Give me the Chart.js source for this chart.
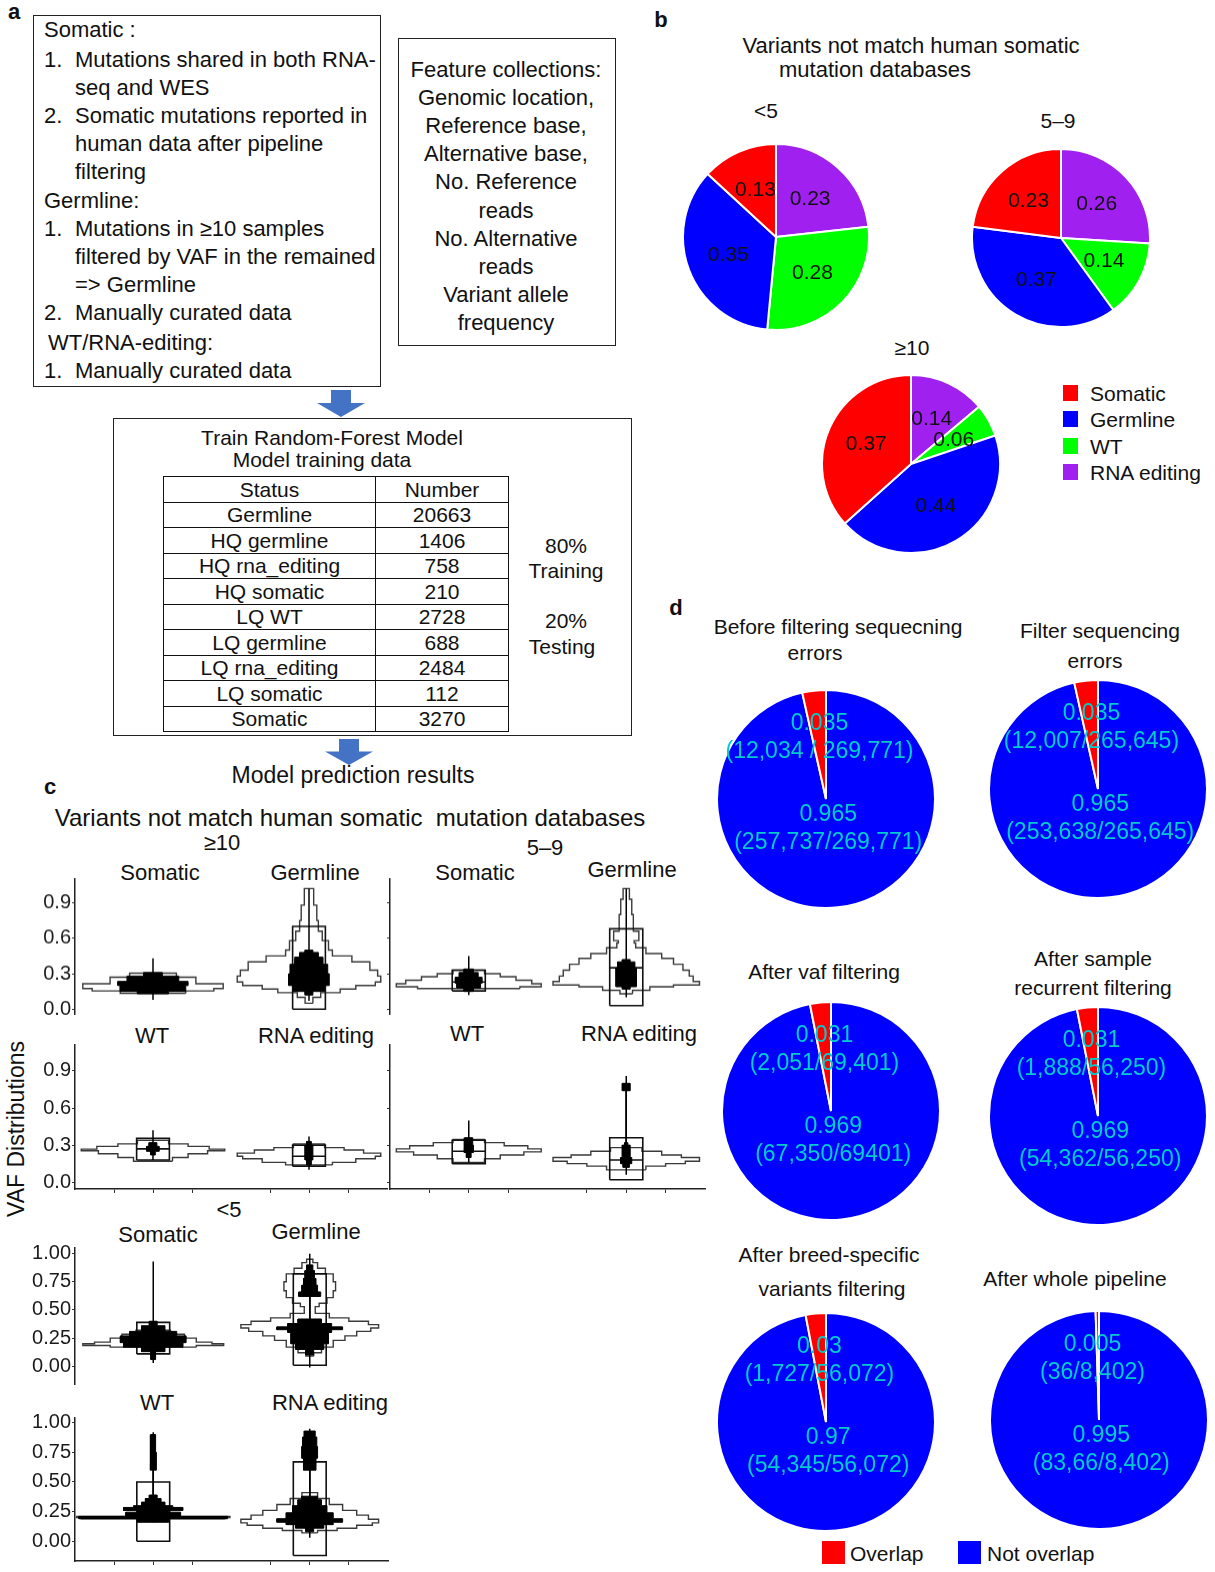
<!DOCTYPE html>
<html>
<head>
<meta charset="utf-8">
<title>Somatic variant classification</title>
<script src="https://cdn.jsdelivr.net/npm/chart.js@4.4.1/dist/chart.umd.min.js"></script>
<style>
  body { margin: 0; background: #fff; }
  #page { position: relative; width: 1215px; height: 1572px; overflow: hidden;
          font-family: "Liberation Sans", Arial, sans-serif; color: #111; }
  .txt { position: absolute; white-space: pre; line-height: 1; }
  .frame { position: absolute; border: 1.5px solid #222; box-sizing: border-box; }
  .key { position: absolute; }
  canvas { position: absolute; }
  table.train { position: absolute; border-collapse: collapse; font-size: 21px; }
  table.train td { border: 1.5px solid #111; padding: 0; text-align: center; line-height: 1; }
  table.train tr { height: 25.5px; }
</style>
</head>
<body>
<div id="page"></div>
<script>
/* =========================
   Data
========================= */

// panel a
const criteria = [
  ['head', 'Somatic :'],
  ['item', '1.', 'Mutations shared in both RNA-'],
  ['cont', 'seq and WES'],
  ['item', '2.', 'Somatic mutations reported in'],
  ['cont', 'human data after pipeline'],
  ['cont', 'filtering'],
  ['head', 'Germline:'],
  ['item', '1.', 'Mutations in \u226510 samples'],
  ['cont', 'filtered by VAF in the remained'],
  ['cont', '=> Germline'],
  ['item', '2.', 'Manually curated data'],
  ['sub', 'WT/RNA-editing:'],
  ['item', '1.', 'Manually curated data']
];
const featureLines = ['Feature collections:', 'Genomic location,', 'Reference base,', 'Alternative base,',
  'No. Reference', 'reads', 'No. Alternative', 'reads', 'Variant allele', 'frequency'];
const trainStatus = ['Germline', 'HQ germline', 'HQ rna_editing', 'HQ somatic', 'LQ WT',
  'LQ germline', 'LQ rna_editing', 'LQ somatic', 'Somatic'];
const trainCounts = [20663, 1406, 758, 210, 2728, 688, 2484, 112, 3270];

// panel b
const statusNames = ['Somatic', 'Germline', 'WT', 'RNA editing'];
const statusColors = ['#ff0000', '#0000ff', '#00ff00', '#a020f0'];
const shareLt5 = [0.13, 0.35, 0.28, 0.23];
const share5to9 = [0.23, 0.37, 0.14, 0.26];
const shareGe10 = [0.37, 0.44, 0.06, 0.14];

// panel d
const stepTitles = [
  ['Before filtering sequecning', 'errors'],
  ['Filter sequencing', 'errors'],
  ['After vaf filtering'],
  ['After sample', 'recurrent filtering'],
  ['After breed-specific', 'variants filtering'],
  ['After whole pipeline']
];
const overlapShare = [0.035, 0.035, 0.031, 0.031, 0.03, 0.005];
const notOverlapShare = [0.965, 0.965, 0.969, 0.969, 0.97, 0.995];
const overlapCounts = ['(12,034 / 269,771)', '(12,007/265,645)', '(2,051/69,401)',
  '(1,888/56,250)', '(1,727/56,072)', '(36/8,402)'];
const notOverlapCounts = ['(257,737/269,771)', '(253,638/265,645)', '(67,350/69401)',
  '(54,362/56,250)', '(54,345/56,072)', '(83,66/8,402)'];

// panel c: profiles are [VAF level, half density] steps, last level closes the shape
// box = [q1, median, q3], range = [lowest, highest] point
const ge10SomaticViolin = [[0.134, 0.42], [0.155, 0.78], [0.175, 0.9], [0.215, 0.55], [0.27, 0.3], [0.305, 0]];
const ge10SomaticDots = [[0.13, 0.2], [0.15, 0.42], [0.2, 0.45], [0.235, 0.33], [0.28, 0.12], [0.31, 0]];
const ge10SomaticBox = [0.17, 0.21, 0.26];
const ge10SomaticRange = [0.08, 0.43];

const ge10GermlineViolin = [[0.05, 0.05], [0.1, 0.15], [0.14, 0.4], [0.17, 0.6], [0.2, 0.85], [0.23, 0.92],
  [0.28, 0.88], [0.33, 0.78], [0.4, 0.55], [0.45, 0.3], [0.5, 0.25], [0.58, 0.17], [0.66, 0.12],
  [0.75, 0.1], [0.88, 0.06], [1.02, 0]];
const ge10GermlineDots = [[0.12, 0.05], [0.15, 0.2], [0.2, 0.26], [0.3, 0.24], [0.38, 0.18], [0.44, 0.12], [0.48, 0.05], [0.5, 0]];
const ge10GermlineBox = [0.0, 0.34, 0.7];
const ge10GermlineRange = [0.07, 1.02];

const ge10WtViolin = [[0.17, 0.25], [0.2, 0.45], [0.23, 0.7], [0.255, 0.92], [0.268, 0.72], [0.29, 0.45], [0.31, 0.2], [0.34, 0]];
const ge10WtDots = [[0.22, 0.03], [0.25, 0.08], [0.29, 0.05], [0.32, 0]];
const ge10WtBox = [0.18, 0.27, 0.355];
const ge10WtRange = [0.18, 0.42];

const ge10RnaViolin = [[0.14, 0.3], [0.16, 0.6], [0.19, 0.85], [0.21, 0.92], [0.235, 0.7], [0.26, 0.45], [0.28, 0.2], [0.31, 0]];
const ge10RnaDots = [[0.14, 0.03], [0.18, 0.05], [0.3, 0.03], [0.33, 0]];
const ge10RnaBox = [0.13, 0.21, 0.3];
const ge10RnaRange = [0.1, 0.37];

const mid59SomaticViolin = [[0.175, 0.65], [0.19, 0.92], [0.215, 0.8], [0.245, 0.6], [0.275, 0.4], [0.3, 0.2], [0.33, 0]];
const mid59SomaticDots = [[0.15, 0.06], [0.18, 0.15], [0.22, 0.17], [0.27, 0.12], [0.31, 0.06], [0.34, 0]];
const mid59SomaticBox = [0.155, 0.23, 0.33];
const mid59SomaticRange = [0.12, 0.45];

const mid59GermlineViolin = [[0.13, 0.08], [0.16, 0.3], [0.19, 0.6], [0.205, 0.93], [0.235, 0.85], [0.28, 0.8],
  [0.33, 0.72], [0.38, 0.6], [0.43, 0.45], [0.47, 0.25], [0.52, 0.12], [0.56, 0.1], [0.58, 0.16],
  [0.66, 0.09], [0.8, 0.07], [0.93, 0.04], [1.02, 0]];
const mid59GermlineDots = [[0.17, 0.05], [0.19, 0.13], [0.25, 0.13], [0.35, 0.11], [0.4, 0.05], [0.42, 0]];
const mid59GermlineBox = [0.03, 0.35, 0.68];
const mid59GermlineRange = [0.1, 1.02];

const mid59WtViolin = [[0.16, 0.2], [0.19, 0.4], [0.22, 0.7], [0.245, 0.92], [0.27, 0.75], [0.295, 0.45], [0.32, 0.2], [0.345, 0]];
const mid59WtDots = [[0.2, 0.03], [0.24, 0.06], [0.3, 0.05], [0.36, 0]];
const mid59WtBox = [0.15, 0.25, 0.34];
const mid59WtRange = [0.16, 0.5];

const mid59RnaViolin = [[0.1, 0.25], [0.13, 0.5], [0.15, 0.75], [0.17, 0.93], [0.2, 0.7], [0.22, 0.45], [0.25, 0.2], [0.28, 0]];
const mid59RnaDots = [[0.12, 0.04], [0.15, 0.07], [0.2, 0.05], [0.3, 0.02], [0.32, 0], [0.74, 0.05], [0.8, 0]];
const mid59RnaBox = [0.02, 0.18, 0.36];
const mid59RnaRange = [0.06, 0.86];

const lt5SomaticViolin = [[0.17, 0.55], [0.185, 0.9], [0.2, 0.75], [0.215, 0.55], [0.25, 0.4], [0.285, 0.22], [0.32, 0.1], [0.34, 0]];
const lt5SomaticDots = [[0.06, 0.03], [0.13, 0.15], [0.17, 0.38], [0.21, 0.42], [0.27, 0.3], [0.31, 0.15], [0.36, 0.05], [0.4, 0]];
const lt5SomaticBox = [0.11, 0.23, 0.39];
const lt5SomaticRange = [0.03, 0.93];

const lt5GermlineViolin = [[0.09, 0.05], [0.12, 0.15], [0.17, 0.3], [0.23, 0.45], [0.27, 0.6], [0.31, 0.78],
  [0.34, 0.88], [0.37, 0.75], [0.4, 0.5], [0.43, 0.25], [0.47, 0.07], [0.53, 0.12], [0.56, 0.22],
  [0.61, 0.3], [0.67, 0.33], [0.75, 0.3], [0.82, 0.2], [0.87, 0.1], [0.92, 0.04], [0.95, 0]];
const lt5GermlineDots = [[0.1, 0.05], [0.15, 0.18], [0.2, 0.24], [0.3, 0.28], [0.325, 0.42], [0.35, 0.28],
  [0.38, 0.15], [0.42, 0], [0.62, 0.14], [0.66, 0.1], [0.72, 0.08], [0.78, 0.06], [0.85, 0.04], [0.9, 0]];
const lt5GermlineBox = [0.01, 0.34, 0.82];
const lt5GermlineRange = [-0.01, 1.0];

const lt5WtViolin = [[0.19, 0.92], [0.2, 0.98], [0.21, 0]];
const lt5WtDots = [[0.16, 0.2], [0.19, 0.95], [0.21, 0.35], [0.245, 0.2], [0.26, 0.38], [0.285, 0.25],
  [0.3, 0.15], [0.33, 0.1], [0.36, 0.05], [0.39, 0], [0.6, 0.04], [0.75, 0.03], [0.9, 0]];
const lt5WtBox = [0.0, 0.21, 0.5];
const lt5WtRange = [0.16, 0.92];

const lt5RnaViolin = [[0.07, 0.1], [0.09, 0.35], [0.11, 0.6], [0.135, 0.8], [0.155, 0.88], [0.185, 0.75],
  [0.22, 0.6], [0.26, 0.42], [0.31, 0.25], [0.36, 0.1], [0.41, 0]];
const lt5RnaDots = [[0.08, 0.05], [0.11, 0.18], [0.14, 0.3], [0.16, 0.42], [0.19, 0.3], [0.24, 0.22],
  [0.3, 0.15], [0.35, 0.1], [0.38, 0], [0.6, 0.08], [0.7, 0.1], [0.8, 0.09], [0.88, 0.07], [0.93, 0]];
const lt5RnaBox = [-0.12, 0.19, 0.67];
const lt5RnaRange = [0.03, 0.95];

const vafTicksTop = [0, 0.3, 0.6, 0.9];
const vafTicksLt5 = [0, 0.25, 0.5, 0.75, 1];
const panelTicks = [0.5, 1, 1.5, 2.5, 3, 3.5];


/* =========================
   Helpers
========================= */
Chart.defaults.font.family = '"Liberation Sans", Arial, sans-serif';
Chart.defaults.color = '#222';

const page = document.getElementById('page');

function put(text, x, y, size, o = {}) {
    const d = document.createElement('div');
    d.className = 'txt';
    d.textContent = text;
    d.style.left = x + 'px';
    d.style.top = y + 'px';
    d.style.fontSize = size + 'px';
    const ax = o.align === 'left' ? '0' : '-50%';
    d.style.transform = 'translate(' + ax + ', -50%)' + (o.rotate ? ' rotate(' + o.rotate + 'deg)' : '');
    if (o.bold) d.style.fontWeight = 'bold';
    if (o.color) d.style.color = o.color;
    page.appendChild(d);
    return d;
}

function frame(x, y, w, h) {
    const d = document.createElement('div');
    d.className = 'frame';
    Object.assign(d.style, { left: x + 'px', top: y + 'px', width: w + 'px', height: h + 'px' });
    page.appendChild(d);
}

function swatch(x, y, w, h, color) {
    const d = document.createElement('div');
    d.className = 'key';
    Object.assign(d.style, { left: x + 'px', top: y + 'px', width: w + 'px', height: h + 'px', background: color });
    page.appendChild(d);
}

function arrow(cx, top, bottom) {
    const ns = 'http://www.w3.org/2000/svg';
    const h = bottom - top;
    const svg = document.createElementNS(ns, 'svg');
    svg.setAttribute('width', 60);
    svg.setAttribute('height', h);
    Object.assign(svg.style, { position: 'absolute', left: (cx - 30) + 'px', top: top + 'px' });
    const poly = document.createElementNS(ns, 'polygon');
    poly.setAttribute('points', `20,0 40,0 40,${h * 0.48} 54,${h * 0.48} 30,${h} 6,${h * 0.48} 20,${h * 0.48}`);
    poly.setAttribute('fill', '#4472C4');
    svg.appendChild(poly);
    page.appendChild(svg);
}

function addCanvas(x, y, w, h) {
    const c = document.createElement('canvas');
    c.width = w;
    c.height = h;
    Object.assign(c.style, { left: x + 'px', top: y + 'px', width: w + 'px', height: h + 'px' });
    page.appendChild(c);
    return c;
}


/* =========================
   Panel a: text boxes + table
========================= */
put('a', 14, 12, 22, { bold: true });
frame(33, 15, 348, 372);
const critY = [30, 60, 88, 116, 144, 172, 201, 229, 257, 285, 313, 343, 371];
criteria.forEach((row, i) => {
    if (row[0] === 'head') put(row[1], 44, critY[i], 22, { align: 'left' });
    else if (row[0] === 'sub') put(row[1], 48, critY[i], 22, { align: 'left' });
    else if (row[0] === 'item') {
        put(row[1], 44, critY[i], 22, { align: 'left' });
        put(row[2], 75, critY[i], 22, { align: 'left' });
    } else put(row[1], 75, critY[i], 22, { align: 'left' });
});

frame(398, 38, 218, 308);
featureLines.forEach((t, i) => put(t, 506, 70 + i * 28.1, 22));

arrow(341, 390, 417);
frame(113, 418, 519, 318);
put('Train Random-Forest Model', 332, 437, 21);
put('Model training data', 322, 459, 21);

const tbl = document.createElement('table');
tbl.className = 'train';
Object.assign(tbl.style, { left: '163px', top: '476px', width: '346px' });
let html = '<tr><td style="width:211px">Status</td><td>Number</td></tr>';
trainStatus.forEach((s, i) => { html += '<tr><td>' + s + '</td><td>' + trainCounts[i] + '</td></tr>'; });
tbl.innerHTML = html;
page.appendChild(tbl);

put('80%', 566, 545, 21);
put('Training', 566, 570, 21);
put('20%', 566, 620, 21);
put('Testing', 562, 646, 21);

arrow(349, 739, 765);
put('Model prediction results', 353, 775, 23);


/* =========================
   Pie label plugin (b, d)
========================= */
const sliceText = {
    id: 'sliceText',
    afterDatasetsDraw(chart, args, opts) {
        const ctx = chart.ctx;
        ctx.save();
        ctx.font = opts.font;
        ctx.fillStyle = opts.color;
        ctx.textAlign = 'center';
        ctx.textBaseline = 'middle';
        chart.getDatasetMeta(0).data.forEach((arc, i) => {
            const lines = opts.text[i];
            const p = arc.getProps(['x', 'y', 'outerRadius', 'startAngle', 'endAngle'], true);
            let px, py;
            if (opts.anchor) {
                px = p.x + opts.anchor[i][0] * p.outerRadius;
                py = p.y + opts.anchor[i][1] * p.outerRadius;
            } else {
                const mid = (p.startAngle + p.endAngle) / 2;
                px = p.x + Math.cos(mid) * p.outerRadius * opts.radius;
                py = p.y + Math.sin(mid) * p.outerRadius * opts.radius;
            }
            lines.forEach((ln, k) => ctx.fillText(ln, px, py + (k - (lines.length - 1) / 2) * opts.lineHeight));
        });
        ctx.restore();
    }
};

function makePie(cx, cy, r, labels, values, colors, textOpts) {
    const cv = addCanvas(cx - r - 1, cy - r - 1, 2 * r + 2, 2 * r + 2);
    return new Chart(cv, {
        type: 'pie',
        data: {
            labels: labels,
            datasets: [{ data: values, backgroundColor: colors, borderColor: '#fff', borderWidth: 2 }]
        },
        options: {
            responsive: false,
            animation: false,
            events: [],
            layout: { padding: 0 },
            plugins: { legend: { display: false }, tooltip: { enabled: false }, sliceText: textOpts }
        },
        plugins: [sliceText]
    });
}


/* =========================
   Panel b: class shares per recurrence group
========================= */
put('b', 661, 20, 22, { bold: true });
put('Variants not match human somatic', 911, 46, 22);
put('mutation databases', 875, 70, 22);

// slices run counter-clockwise from 12 o'clock, so hand them to Chart.js reversed
function statusPie(cx, cy, r, shares) {
    const vals = shares.slice().reverse();
    makePie(cx, cy, r, statusNames.slice().reverse(), vals, statusColors.slice().reverse(), {
        font: '21px "Liberation Sans", Arial, sans-serif', color: '#111', radius: 0.55, lineHeight: 0,
        text: vals.map(v => [v.toFixed(2)])
    });
}
put('<5', 766, 110, 21);
statusPie(776, 237, 93, shareLt5);
put('5\u20139', 1058, 120, 21);
statusPie(1061, 238, 89, share5to9);
put('\u226510', 912, 347, 21);
statusPie(911, 464, 89, shareGe10);

statusNames.forEach((n, i) => {
    swatch(1063, 385 + i * 26.3, 15, 16, statusColors[i]);
    put(n, 1090, 393 + i * 26.3, 21, { align: 'left' });
});


/* =========================
   Panel d: overlap with human databases per filter step
========================= */
put('d', 676, 608, 22, { bold: true });
const dCenters = [[826, 799], [1098, 789], [831, 1111], [1098, 1116], [826, 1422], [1099, 1420]];
const dTitleY = [[626, 652], [630, 660], [971], [958, 987], [1254, 1288], [1278]];
const dTitleX = [[838, 815], [1100, 1095], [824], [1093, 1093], [829, 832], [1075]];
stepTitles.forEach((lines, i) => {
    lines.forEach((t, k) => put(t, dTitleX[i][k], dTitleY[i][k], 21));
    makePie(dCenters[i][0], dCenters[i][1], 109, ['Not overlap', 'Overlap'],
        [notOverlapShare[i], overlapShare[i]], ['#0000ff', '#ff0000'], {
            font: '23px "Liberation Sans", Arial, sans-serif', color: '#00cdcd', lineHeight: 28,
            anchor: [[0.02, 0.27], [-0.06, -0.56]],
            text: [[String(notOverlapShare[i]), notOverlapCounts[i]], [String(overlapShare[i]), overlapCounts[i]]]
        });
});
swatch(822, 1541, 23, 23, '#ff0000');
put('Overlap', 850, 1553, 21, { align: 'left' });
swatch(958, 1541, 23, 23, '#0000ff');
put('Not overlap', 987, 1553, 21, { align: 'left' });


/* =========================
   Panel c: VAF violins
========================= */
put('c', 50, 787, 22, { bold: true });
put('Variants not match human somatic  mutation databases', 350, 818, 24);
put('\u226510', 222, 843, 22);
put('5\u20139', 545, 848, 22);
put('<5', 229, 1210, 22);
put('VAF Distributions', 16, 1129, 23, { rotate: -90 });
[['Somatic', 160, 873], ['Germline', 315, 873], ['Somatic', 475, 873], ['Germline', 632, 870],
 ['WT', 152, 1036], ['RNA editing', 316, 1036], ['WT', 467, 1034], ['RNA editing', 639, 1034],
 ['Somatic', 158, 1235], ['Germline', 316, 1232], ['WT', 157, 1403], ['RNA editing', 330, 1403]]
    .forEach(s => put(s[0], s[1], s[2], 22));

function stairPath(profile, c) {
    const pts = [];
    for (let i = 0; i < profile.length - 1; i++) {
        const y0 = profile[i][0], w = profile[i][1], y1 = profile[i + 1][0];
        pts.push({ x: c + w, y: y0 }, { x: c + w, y: y1 });
    }
    for (let i = profile.length - 2; i >= 0; i--) {
        const y0 = profile[i][0], w = profile[i][1], y1 = profile[i + 1][0];
        pts.push({ x: c - w, y: y1 }, { x: c - w, y: y0 });
    }
    pts.push(pts[0]);
    return pts;
}

const BOX_HALF = 0.21;
function panelSets(p, c) {
    const base = { showLine: true, pointRadius: 0, fill: false, tension: 0 };
    return [
        { ...base, data: stairPath(p.violin, c), borderColor: '#3a3a3a', borderWidth: 1.4, order: 4 },
        { ...base, data: [{ x: c - BOX_HALF, y: p.box[0] }, { x: c + BOX_HALF, y: p.box[0] },
            { x: c + BOX_HALF, y: p.box[2] }, { x: c - BOX_HALF, y: p.box[2] }, { x: c - BOX_HALF, y: p.box[0] }],
          borderColor: '#111', borderWidth: 1.6, order: 3 },
        { ...base, data: [{ x: c - BOX_HALF, y: p.box[1] }, { x: c + BOX_HALF, y: p.box[1] }],
          borderColor: '#111', borderWidth: 1.6, order: 3 },
        { ...base, data: stairPath(p.dots, c), borderColor: '#000', backgroundColor: '#000', borderWidth: 1, fill: 'shape', order: 1 },
        { ...base, data: [{ x: c, y: p.range[0] }, { x: c, y: p.range[1] }], borderColor: '#000', borderWidth: 1.5, order: 0 }
    ];
}

function violinRow(area, yMin, yMax, ticks, fmt, showLabels, showX, panels) {
    const [left, right, top, bottom] = area;
    const padTop = 12, yw = 45;
    const w = yw + (right - left) + 4;
    const h = padTop + (bottom - top) + (showX ? 8 : 0) + 4;
    const cv = addCanvas(left - yw, top - padTop, w, h);
    new Chart(cv, {
        type: 'line',
        data: { datasets: panelSets(panels[0], 1).concat(panelSets(panels[1], 3)) },
        options: {
            responsive: false,
            animation: false,
            events: [],
            layout: { padding: { top: padTop, right: 4, bottom: 4, left: 0 } },
            plugins: { legend: { display: false }, tooltip: { enabled: false } },
            scales: {
                x: {
                    type: 'linear', min: 0, max: 4, display: showX,
                    afterBuildTicks: s => { s.ticks = panelTicks.map(v => ({ value: v })); },
                    afterFit: s => { s.height = 8; },
                    ticks: { callback: () => '' },
                    grid: { drawOnChartArea: false, drawTicks: true, tickLength: 4, color: '#333' },
                    border: { display: true, color: '#222', width: 1.5 }
                },
                y: {
                    type: 'linear', min: yMin, max: yMax,
                    afterBuildTicks: s => { s.ticks = ticks.map(v => ({ value: v })); },
                    afterFit: s => { s.width = yw; },
                    ticks: { callback: v => showLabels ? fmt(v) : '', font: { size: 20 }, color: '#1a1a1a', padding: 1 },
                    grid: { drawOnChartArea: false, drawTicks: true, tickLength: 3, color: '#333' },
                    border: { display: true, color: '#222', width: 1.5 }
                }
            }
        }
    });
}

const pnl = (violin, dots, box, range) => ({ violin, dots, box, range });
const oneDec = v => v.toFixed(1);
const twoDec = v => v.toFixed(2);

violinRow([75, 387, 878.1, 1022.6], -0.04, 1.1, vafTicksTop, oneDec, true, false, [
    pnl(ge10SomaticViolin, ge10SomaticDots, ge10SomaticBox, ge10SomaticRange),
    pnl(ge10GermlineViolin, ge10GermlineDots, ge10GermlineBox, ge10GermlineRange)]);
violinRow([75, 387, 1043.6, 1189.9], -0.055, 1.11, vafTicksTop, oneDec, true, true, [
    pnl(ge10WtViolin, ge10WtDots, ge10WtBox, ge10WtRange),
    pnl(ge10RnaViolin, ge10RnaDots, ge10RnaBox, ge10RnaRange)]);
violinRow([390, 705, 878.1, 1022.6], -0.04, 1.1, vafTicksTop, oneDec, false, false, [
    pnl(mid59SomaticViolin, mid59SomaticDots, mid59SomaticBox, mid59SomaticRange),
    pnl(mid59GermlineViolin, mid59GermlineDots, mid59GermlineBox, mid59GermlineRange)]);
violinRow([390, 705, 1043.6, 1189.9], -0.055, 1.11, vafTicksTop, oneDec, false, true, [
    pnl(mid59WtViolin, mid59WtDots, mid59WtBox, mid59WtRange),
    pnl(mid59RnaViolin, mid59RnaDots, mid59RnaBox, mid59RnaRange)]);
violinRow([75, 388, 1247, 1393], -0.157, 1.05, vafTicksLt5, twoDec, true, false, [
    pnl(lt5SomaticViolin, lt5SomaticDots, lt5SomaticBox, lt5SomaticRange),
    pnl(lt5GermlineViolin, lt5GermlineDots, lt5GermlineBox, lt5GermlineRange)]);
violinRow([75, 388, 1417, 1562], -0.167, 1.04, vafTicksLt5, twoDec, true, true, [
    pnl(lt5WtViolin, lt5WtDots, lt5WtBox, lt5WtRange),
    pnl(lt5RnaViolin, lt5RnaDots, lt5RnaBox, lt5RnaRange)]);
</script>
</body>
</html>
